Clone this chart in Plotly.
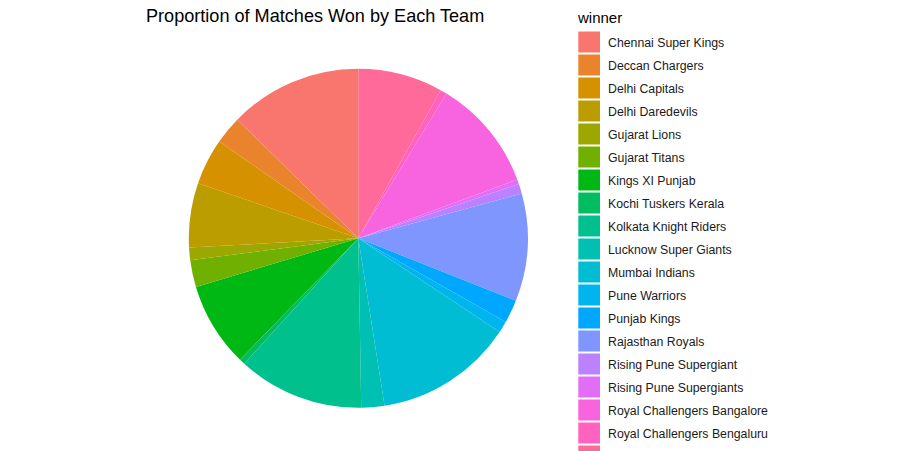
import math
import plotly.graph_objects as go

# ---- data ----
teams = [
    "Chennai Super Kings", "Deccan Chargers", "Delhi Capitals", "Delhi Daredevils",
    "Gujarat Lions", "Gujarat Titans", "Kings XI Punjab", "Kochi Tuskers Kerala",
    "Kolkata Knight Riders", "Lucknow Super Giants", "Mumbai Indians", "Pune Warriors",
    "Punjab Kings", "Rajasthan Royals", "Rising Pune Supergiant", "Rising Pune Supergiants",
    "Royal Challengers Bangalore", "Royal Challengers Bengaluru", "Sunrisers Hyderabad",
]
wins = [138, 29, 48, 67, 13, 28, 88, 6, 131, 24, 144, 12, 24, 112, 10, 5, 116, 7, 88]

title_text = "Proportion of Matches Won by Each Team"
legend_title = "winner"

W, H = 903, 451


def hcl_hex(h, c=100.0, l=65.0):
    # polar LUV -> sRGB (as in R's hcl())
    wy, wu, wv = 100.0, 0.1978398, 0.4683363
    hr = math.radians(h)
    U, V = c * math.cos(hr), c * math.sin(hr)
    Y = wy * (((l + 16) / 116) ** 3 if l > 7.999592 else l / 903.3)
    u = U / (13 * l) + wu
    v = V / (13 * l) + wv
    X = 9.0 * Y * u / (4 * v)
    Z = -X / 3 - 5 * Y + 3 * Y / v
    X, Y, Z = X / 100, Y / 100, Z / 100
    r = 3.240479 * X - 1.537150 * Y - 0.498535 * Z
    g = -0.969256 * X + 1.875992 * Y + 0.041556 * Z
    b = 0.055648 * X - 0.204043 * Y + 1.057311 * Z

    def gam(t):
        t = 12.92 * t if t <= 0.0031308 else 1.055 * t ** (1 / 2.4) - 0.055
        return int(round(min(max(t, 0), 1) * 255))

    return "#%02X%02X%02X" % (gam(r), gam(g), gam(b))


n = len(teams)
colors = [hcl_hex(15 + 360 * i / n) for i in range(n)]

# pie geometry (pixels)
cx, cy, rad = 358.3, 238.3, 169.5

# ggplot polar stacking: last level starts at 12 o'clock going clockwise
fig = go.Figure(go.Pie(
    labels=teams[::-1], values=wins[::-1], sort=False, direction="clockwise",
    rotation=0, textinfo="none", hoverinfo="label+percent",
    marker=dict(colors=colors[::-1], line=dict(width=0)),
    domain=dict(x=[(cx - rad) / W, (cx + rad) / W],
                y=[(H - cy - rad) / H, (H - cy + rad) / H]),
    showlegend=False,
))

FONT = "Liberation Sans, Arial, sans-serif"
shapes = []
annotations = [
    dict(text=title_text, x=144.0 / W, y=1 - 16.0 / H, xref="paper", yref="paper",
         xanchor="left", yanchor="middle", showarrow=False,
         font=dict(family=FONT, size=18.1, color="#000000")),
    dict(text=legend_title, x=574.5 / W, y=1 - 17.0 / H, xref="paper", yref="paper",
         xanchor="left", yanchor="middle", showarrow=False,
         font=dict(family=FONT, size=15, color="#000000")),
]
key_x0, key_x1, key_top, key_step, key_h = 578.3, 600.0, 31.5, 23.0, 21.0
for i, (t, col) in enumerate(zip(teams, colors)):
    y0 = key_top + i * key_step
    shapes.append(dict(type="rect", xref="paper", yref="paper",
                       x0=key_x0 / W, x1=key_x1 / W,
                       y0=1 - y0 / H, y1=1 - (y0 + key_h) / H,
                       fillcolor=col, line=dict(width=0), layer="above"))
    annotations.append(dict(text=t, x=605.5 / W, y=1 - (y0 + key_h / 2 + 1.0) / H,
                            xref="paper", yref="paper", xanchor="left",
                            yanchor="middle", showarrow=False,
                            font=dict(family=FONT, size=12.3, color="#1A1A1A")))

fig.update_layout(
    width=W, height=H, margin=dict(l=0, r=0, t=0, b=0),
    paper_bgcolor="white", plot_bgcolor="white",
    shapes=shapes, annotations=annotations,
)

fig.write_html("out.html")
